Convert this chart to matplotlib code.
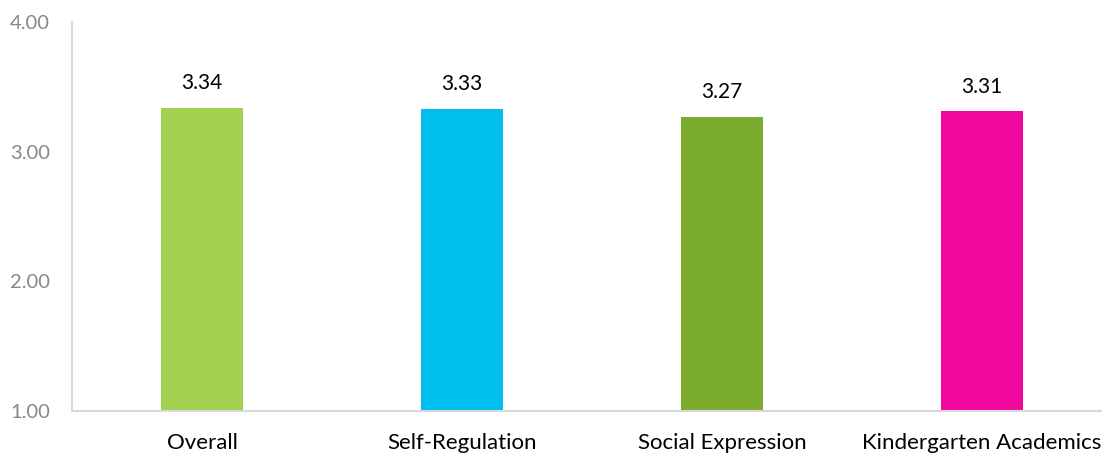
import matplotlib.pyplot as plt

categories = ["Overall", "Self-Regulation", "Social Expression", "Kindergarten Academics"]
scores = [3.34, 3.33, 3.27, 3.31]
colors = ["#A2D14F", "#00BFEE", "#7BAC2E", "#F0079E"]
y_ticks = [1.0, 2.0, 3.0, 4.0]
base = 1.0

plt.rcParams['font.family'] = ['Lato', 'DejaVu Sans']

fig = plt.figure(figsize=(11.02, 4.54), dpi=100)
ax = fig.add_axes([72 / 1102, 43 / 454, 1040 / 1102, 389 / 454])

x = range(len(categories))
heights = [s - base for s in scores]
ax.bar(x, heights, bottom=base, width=0.315, color=colors)

# value labels sit a fixed distance above each bar
for i, s in enumerate(scores):
    ax.annotate(f"{s:.2f}", (i, s), xytext=(0, 13.5), textcoords="offset points",
                ha="center", va="baseline", fontsize=15, color="black")

ax.set_xlim(-0.5, 3.5)
ax.set_ylim(1.0, 4.0)
ax.set_yticks(y_ticks)
ax.set_yticklabels([f"{t:.2f}" for t in y_ticks])
ax.set_xticks(list(x))
ax.set_xticklabels(categories)

ax.tick_params(axis="y", length=0, pad=16, labelsize=14.5, labelcolor="#8C8585")
ax.tick_params(axis="x", length=0, pad=16, labelsize=16, labelcolor="black")

for side in ["top", "right"]:
    ax.spines[side].set_visible(False)
for side in ["left", "bottom"]:
    ax.spines[side].set_color("#D9D9D9")
    ax.spines[side].set_linewidth(1.5)

fig.savefig("out.png", dpi=100)
